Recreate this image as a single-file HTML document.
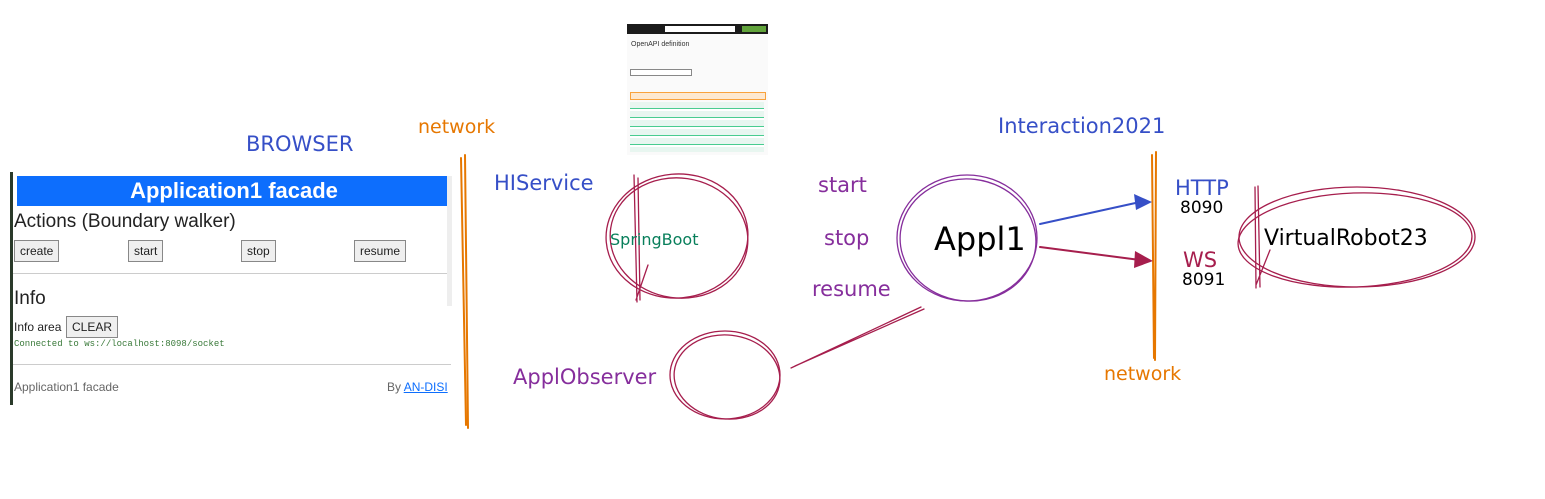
<!DOCTYPE html>
<html><head><meta charset="utf-8"><style>
body{margin:0;width:1545px;height:499px;background:#fff;overflow:hidden;position:relative;font-family:"Liberation Sans",sans-serif}
.shot{position:absolute;left:10px;top:172px;width:438px;height:233px;background:#fff;border-left:3px solid #2a3a2a}
.hdr{position:absolute;left:4px;top:4px;width:434px;height:30px;background:#0d6efd;color:#fff;font-weight:bold;font-size:22px;text-align:center;line-height:30px}
.t{position:absolute;color:#222}
.btn{position:absolute;top:68px;height:20px;border:1px solid #888;background:#efefef;font-size:12px;line-height:20px;padding:0 5px;color:#222}
.hr{position:absolute;left:0;width:438px;border-top:1px solid #ccc}
svg{position:absolute;left:0;top:0}
.hand{font-family:"Comic Sans MS","DejaVu Sans",sans-serif}
</style></head><body>
<div class="shot">
<div class="hdr">Application1 facade</div>
<div class="t" style="left:1px;top:39px;font-size:19px">Actions (Boundary walker)</div>
<div class="btn" style="left:1px">create</div>
<div class="btn" style="left:115px">start</div>
<div class="btn" style="left:228px">stop</div>
<div class="btn" style="left:341px">resume</div>
<div class="hr" style="top:101px"></div>
<div class="t" style="left:1px;top:116px;font-size:19px">Info</div>
<div class="t" style="left:1px;top:148px;font-size:12px">Info area</div>
<div class="btn" style="left:53px;top:144px">CLEAR</div>
<div class="t" style="left:1px;top:167px;font-size:9px;font-family:'Liberation Mono',monospace;color:#3a7a3a">Connected to ws://localhost:8098/socket</div>
<div class="hr" style="top:192px"></div>
<div class="t" style="left:1px;top:208px;font-size:12px;color:#666">Application1 facade</div>
<div class="t" style="left:374px;top:208px;font-size:12px;color:#666">By <span style="color:#0d6efd;text-decoration:underline">AN-DISI</span></div>
</div>
<div style="position:absolute;left:447px;top:176px;width:5px;height:130px;background:#eee"></div>
<div style="position:absolute;left:627px;top:24px;width:141px;height:131px;background:#fafafa">
<div style="height:10px;background:#1b1b1b"></div>
<div style="position:absolute;left:38px;top:2px;width:70px;height:6px;background:#fff"></div>
<div style="position:absolute;left:115px;top:2px;width:24px;height:6px;background:#61a33b"></div>
<div style="position:absolute;left:4px;top:17px;font-size:7px;color:#333">OpenAPI definition</div>
<div style="position:absolute;left:3px;top:45px;width:60px;height:5px;border:1px solid #888;background:#fff"></div>
<div style="position:absolute;left:3px;top:68px;width:134px;height:6px;background:#fde8d0;border:1px solid #f9a23c"></div>
<div style="position:absolute;left:3px;top:78px;width:134px;height:50px;background:repeating-linear-gradient(#e8f6f0 0 6px,#49cc90 6px 7px,#fff 7px 9px)"></div>
</div>
<svg width="1545" height="499" viewBox="0 0 1545 499">
<g fill="none" stroke-linecap="round">
<path d="M461 158 L466 425 M465 155 L468 428" stroke="#e67700" stroke-width="2"/>
<path d="M1152 155 L1154 358 M1156 152 L1155 360" stroke="#e67700" stroke-width="2"/>
<g stroke="#a61e4d" stroke-width="1.3">
<ellipse cx="677" cy="236" rx="71" ry="62" transform="rotate(-5 677 236)"/>
<ellipse cx="679" cy="238" rx="69" ry="60" transform="rotate(8 679 238)"/>
<path d="M634 175 L637 302 M638 178 L640 300 M636 300 L648 265"/>
<ellipse cx="725" cy="375" rx="55" ry="44"/>
<ellipse cx="727" cy="377" rx="53" ry="42" transform="rotate(6 727 377)"/>
<path d="M791 368 L921 307 M795 366 L924 309"/>
<ellipse cx="1357" cy="237" rx="118" ry="50"/>
<ellipse cx="1355" cy="240" rx="117" ry="47" transform="rotate(-2 1355 240)"/>
<path d="M1255 187 L1256 288 M1258 186 L1260 287 M1256 285 L1270 250"/>
<path d="M1040 247 L1140 260" stroke-width="2"/>
</g>
<g stroke="#862e9c" stroke-width="1.3">
<ellipse cx="967" cy="238" rx="70" ry="63"/>
<ellipse cx="968" cy="240" rx="68" ry="61" transform="rotate(7 968 240)"/>
</g>
<path d="M1040 224 L1140 202" stroke="#364fc7" stroke-width="2"/>
</g>
<path d="M1152 202 L1134 194 L1136 210Z" fill="#364fc7"/>
<path d="M1153 261 L1135 251 L1134 268Z" fill="#a61e4d"/>
<g class="hand" font-size="21">
<text x="246" y="151" fill="#364fc7">BROWSER</text>
<text x="418" y="133" fill="#e67700" font-size="19">network</text>
<text x="1104" y="380" fill="#e67700" font-size="19">network</text>
<text x="494" y="190" fill="#364fc7">HIService</text>
<text x="998" y="133" fill="#364fc7">Interaction2021</text>
<text x="610" y="245" fill="#087f5b" font-size="16">SpringBoot</text>
<text x="818" y="192" fill="#862e9c">start</text>
<text x="824" y="245" fill="#862e9c">stop</text>
<text x="812" y="296" fill="#862e9c">resume</text>
<text x="513" y="384" fill="#862e9c">ApplObserver</text>
<text x="934" y="250" fill="#000" font-size="32">Appl1</text>
<text x="1175" y="195" fill="#364fc7">HTTP</text>
<text x="1180" y="213" fill="#000" font-size="17">8090</text>
<text x="1183" y="267" fill="#a61e4d">WS</text>
<text x="1182" y="285" fill="#000" font-size="17">8091</text>
<text x="1264" y="245" fill="#000" font-size="22">VirtualRobot23</text>
</g>
</svg>
</body></html>
